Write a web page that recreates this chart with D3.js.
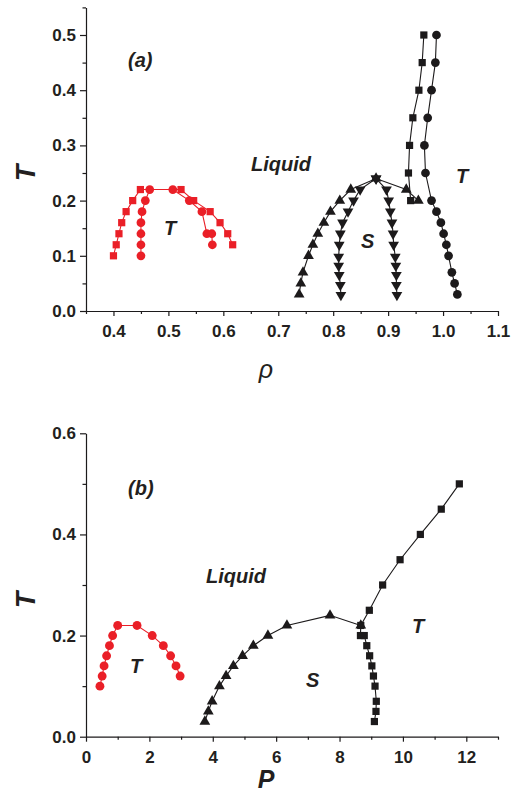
<!DOCTYPE html>
<html>
<head>
<meta charset="utf-8">
<script src="https://cdn.jsdelivr.net/npm/d3@7"></script>
<style>
  body { margin: 0; background: #fff; }
  svg text { font-family: "Liberation Sans", Arial, sans-serif; fill: #231f20; }
</style>
</head>
<body>
<div id="chart"></div>
<script>
// ---- panel (a): T vs rho ----
const rojoCuadRho = [0.40, 0.405, 0.41, 0.415, 0.423, 0.435, 0.449, 0.523, 0.546, 0.576, 0.594, 0.608, 0.617];
const rojoCuadT   = [0.10, 0.12, 0.14, 0.16, 0.18, 0.20, 0.22, 0.22, 0.20, 0.18, 0.16, 0.14, 0.12];
const rojoCircRho = [0.45, 0.45, 0.45, 0.45, 0.452, 0.458, 0.466, 0.508, 0.538, 0.561, 0.570, 0.579, 0.580];
const rojoCircT   = [0.10, 0.12, 0.14, 0.16, 0.18, 0.20, 0.22, 0.22, 0.20, 0.18, 0.14, 0.14, 0.12];

const triRho = [0.738, 0.741, 0.745, 0.755, 0.763, 0.772, 0.783, 0.795, 0.812, 0.832, 0.878, 0.933, 0.955];
const triT   = [0.03, 0.05, 0.07, 0.10, 0.12, 0.14, 0.16, 0.18, 0.20, 0.22, 0.24, 0.22, 0.20];
const triAbajoT = [0.24, 0.22, 0.20, 0.18, 0.16, 0.14, 0.12, 0.098, 0.082, 0.065, 0.047, 0.029];
const triAbajoIzqRho = [0.878, 0.849, 0.837, 0.827, 0.817, 0.813, 0.811, 0.810, 0.810, 0.811, 0.813, 0.814];
const triAbajoDerRho = [0.878, 0.897, 0.901, 0.904, 0.907, 0.909, 0.910, 0.913, 0.914, 0.915, 0.915, 0.916];

const cuadRho = [0.965, 0.962, 0.956, 0.945, 0.939, 0.937, 0.941];
const cuadT   = [0.50, 0.45, 0.40, 0.35, 0.30, 0.25, 0.20];
const circRho = [0.988, 0.986, 0.979, 0.972, 0.966, 0.968, 0.979, 0.988, 0.996, 1.001, 1.006, 1.010, 1.016, 1.021, 1.026];
const circT   = [0.50, 0.45, 0.40, 0.35, 0.30, 0.25, 0.20, 0.18, 0.16, 0.14, 0.12, 0.10, 0.07, 0.05, 0.03];

// ---- panel (b): T vs P ----
const rojoP = [0.44, 0.51, 0.57, 0.65, 0.74, 0.84, 1.00, 1.61, 2.09, 2.44, 2.67, 2.84, 2.97];
const rojoT = [0.10, 0.12, 0.14, 0.16, 0.18, 0.20, 0.22, 0.22, 0.20, 0.18, 0.16, 0.14, 0.12];
const triP  = [3.75, 3.86, 3.98, 4.21, 4.42, 4.65, 4.94, 5.28, 5.74, 6.34, 7.70, 8.67];
const triPT = [0.03, 0.05, 0.07, 0.10, 0.12, 0.14, 0.16, 0.18, 0.20, 0.22, 0.24, 0.22];
const cuadP  = [11.78, 11.21, 10.55, 9.91, 9.36, 8.94, 8.67, 8.66, 8.78, 8.86, 8.95, 9.02, 9.07, 9.12, 9.16, 9.15, 9.10];
const cuadPT = [0.50, 0.45, 0.40, 0.35, 0.30, 0.25, 0.22, 0.20, 0.20, 0.18, 0.16, 0.14, 0.12, 0.10, 0.07, 0.05, 0.03];

// ticks
const ticksRho = [0.4, 0.5, 0.6, 0.7, 0.8, 0.9, 1.0, 1.1];
const menoresRho = [0.35, 0.45, 0.55, 0.65, 0.75, 0.85, 0.95, 1.05];
const ticksTa = [0.0, 0.1, 0.2, 0.3, 0.4, 0.5];
const menoresTa = [0.05, 0.15, 0.25, 0.35, 0.45, 0.55];
const ticksP = [0, 2, 4, 6, 8, 10, 12];
const menoresP = [1, 3, 5, 7, 9, 11, 13];
const ticksTb = [0.0, 0.2, 0.4, 0.6];
const menoresTb = [0.1, 0.3, 0.5];

const ROJO = "#ea1f27", NEGRO = "#1c1a1b";

const svg = d3.select("#chart")
    .append("svg")
    .attr("width", 514)
    .attr("height", 800);

const xa = d3.scaleLinear().domain([0.35, 1.1]).range([86, 498]);
const ya = d3.scaleLinear().domain([0, 0.55]).range([311, 7.4]);
const xb = d3.scaleLinear().domain([0, 13]).range([86, 498]);
const yb = d3.scaleLinear().domain([0, 0.6]).range([736.7, 433.3]);

function ejes(x, y, tx, mx, ty, my, fx, fy) {
    const y0 = y.range()[0], x0 = x.range()[0];
    const gx = svg.append("g").attr("transform", "translate(0," + y0 + ")");
    gx.call(d3.axisBottom(x).tickValues(tx).tickSize(5).tickSizeOuter(0).tickPadding(9).tickFormat(d3.format(fx)));
    gx.append("g").call(d3.axisBottom(x).tickValues(mx).tickSize(3).tickSizeOuter(0).tickFormat(""))
        .select(".domain").remove();
    const gy = svg.append("g").attr("transform", "translate(" + x0 + ",0)");
    gy.call(d3.axisLeft(y).tickValues(ty).tickSize(6).tickSizeOuter(0).tickPadding(4).tickFormat(d3.format(fy)));
    gy.append("g").call(d3.axisLeft(y).tickValues(my).tickSize(3.5).tickSizeOuter(0).tickFormat(""))
        .select(".domain").remove();
    svg.selectAll(".domain, .tick line").attr("stroke", NEGRO).attr("stroke-width", 1.2);
    svg.selectAll(".tick text")
        .style("font-size", "17px")
        .style("font-weight", "bold")
        .attr("fill", "#231f20");
}

function serie(x, y, xs, ys, col, tipo, tam, girar) {
    const pts = xs.map((v, i) => [x(v), y(ys[i])]);
    svg.append("path")
        .attr("d", d3.line()(pts))
        .attr("fill", "none")
        .attr("stroke", col)
        .attr("stroke-width", 1.1);
    svg.append("g")
        .selectAll("path")
        .data(pts)
        .enter()
        .append("path")
        .attr("d", d3.symbol().type(tipo).size(tam))
        .attr("transform", d => "translate(" + d[0] + "," + d[1] + ")" + (girar ? " rotate(180)" : ""))
        .attr("fill", col);
}

function texto(x, y, t, tam, col) {
    svg.append("text")
        .attr("x", x)
        .attr("y", y)
        .style("font-size", tam + "px")
        .style("font-weight", "bold")
        .style("font-style", "italic")
        .attr("fill", col || "#231f20")
        .text(t);
}

// panel (a)
ejes(xa, ya, ticksRho, menoresRho, ticksTa, menoresTa, ".1f", ".1f");
serie(xa, ya, rojoCuadRho, rojoCuadT, ROJO, d3.symbolSquare, 52);
serie(xa, ya, rojoCircRho, rojoCircT, ROJO, d3.symbolCircle, 60);
serie(xa, ya, triRho, triT, NEGRO, d3.symbolTriangle, 50);
serie(xa, ya, triAbajoIzqRho, triAbajoT, NEGRO, d3.symbolTriangle, 50, true);
serie(xa, ya, triAbajoDerRho, triAbajoT, NEGRO, d3.symbolTriangle, 50, true);
serie(xa, ya, cuadRho, cuadT, NEGRO, d3.symbolSquare, 52);
serie(xa, ya, circRho, circT, NEGRO, d3.symbolCircle, 60);

texto(128, 67, "(a)", 20);
texto(251, 171, "Liquid", 20);
texto(164, 235, "T", 20);
texto(361, 248, "S", 20);
texto(456, 183, "T", 20);

//Etiquetas de ejes (a)
svg.append("text")
    .attr("text-anchor", "middle")
    .attr("transform", "translate(35,173) rotate(-90)")
    .style("font-size", "27px").style("font-weight", "bold").style("font-style", "italic")
    .text("T");
svg.append("text")
    .attr("text-anchor", "middle")
    .attr("x", 266).attr("y", 378)
    .style("font-size", "25px").style("font-style", "italic")
    .text("ρ");

// panel (b)
ejes(xb, yb, ticksP, menoresP, ticksTb, menoresTb, "d", ".1f");
serie(xb, yb, rojoP, rojoT, ROJO, d3.symbolCircle, 62);
serie(xb, yb, triP, triPT, NEGRO, d3.symbolTriangle, 50);
serie(xb, yb, cuadP, cuadPT, NEGRO, d3.symbolSquare, 52);

texto(128, 495, "(b)", 20);
texto(206, 583, "Liquid", 20);
texto(130, 673, "T", 20);
texto(306, 687, "S", 20);
texto(412, 633, "T", 20);

//Etiquetas de ejes (b)
svg.append("text")
    .attr("text-anchor", "middle")
    .attr("transform", "translate(35,600) rotate(-90)")
    .style("font-size", "27px").style("font-weight", "bold").style("font-style", "italic")
    .text("T");
svg.append("text")
    .attr("text-anchor", "middle")
    .attr("x", 266).attr("y", 788)
    .style("font-size", "25px").style("font-weight", "bold").style("font-style", "italic")
    .text("P");
</script>
</body>
</html>
